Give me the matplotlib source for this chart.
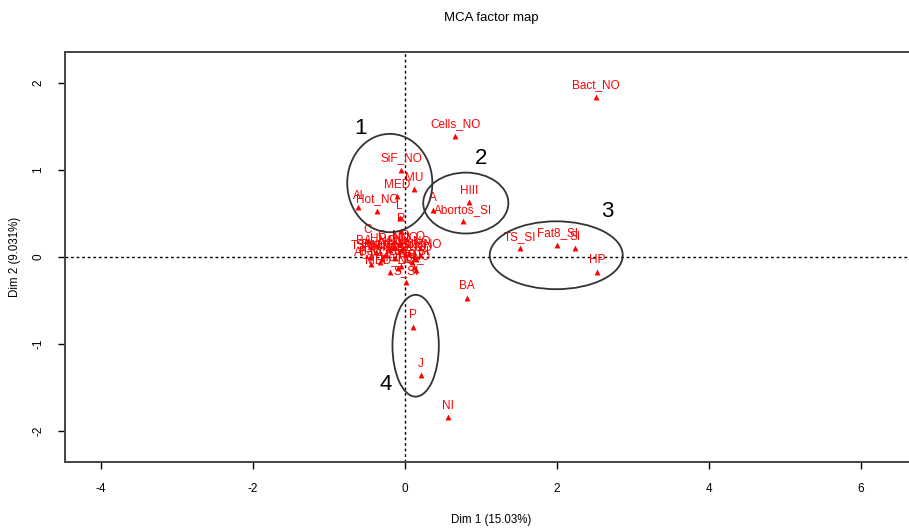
import matplotlib
matplotlib.use("Agg")
import matplotlib.pyplot as plt
from matplotlib.patches import Ellipse

plt.rcParams['font.family'] = ['Liberation Sans', 'DejaVu Sans']

# ---- data ----
labels = ["Bact_NO", "Cells_NO", "SiF_NO", "MU", "MED", "Hot_NO", "Al", "L", "R",
          "C", "O", "HIII", "Abortos_SI", "A", "TS_SI", "Fat8_SI", "SI", "HP",
          "BA", "P", "J", "NI", "S_SI",
          "TS_NO", "FatB_NO", "Abortos_NO", "Bact_SI", "Cells_SI", "SiF_SI",
          "Hot_SI", "MED_NO", "HIII_NO", "HP_NO", "BA_NO", "P_NO", "J_NO",
          "NI_NO", "MU_NO", "Al_NO", "C_NO", "O_NO", "SI_", "L_NO"]
dim1 = [2.51, 0.66, -0.05, 0.12, -0.10, -0.37, -0.62, -0.07, -0.05,
        -0.49, 0.20, 0.84, 0.76, 0.37, 1.51, 2.00, 2.24, 2.53,
        0.82, 0.10, 0.21, 0.57, 0.01,
        -0.46, -0.26, -0.13, -0.33, 0.00, 0.09,
        -0.09, -0.20, 0.20, -0.20, -0.38, 0.12, -0.02,
        -0.30, 0.05, -0.45, -0.15, 0.15, 0.14, -0.05]
dim2 = [1.84, 1.39, 1.00, 0.78, 0.70, 0.53, 0.57, 0.45, 0.30,
        0.18, 0.10, 0.63, 0.41, 0.54, 0.10, 0.14, 0.10, -0.17,
        -0.47, -0.80, -1.36, -1.84, -0.29,
        0.00, 0.02, -0.01, -0.06, 0.02, -0.06,
        -0.13, -0.17, 0.02, 0.08, 0.06, -0.12, 0.10,
        -0.02, 0.05, -0.08, 0.12, -0.02, -0.15, -0.10]

ell_cx = [-0.20, 0.80, 1.99, 0.14]
ell_cy = [0.85, 0.62, 0.02, -1.02]
ell_w = [1.12, 1.12, 1.75, 0.61]
ell_h = [1.13, 0.70, 0.78, 1.17]
grp_names = ["1", "2", "3", "4"]
grp_x = [-0.59, 1.00, 2.66, -0.26]
grp_y = [1.48, 1.13, 0.52, -1.46]

xticks = [-4, -2, 0, 2, 4, 6]
yticks = [-2, -1, 0, 1, 2]

# ---- figure ----
W, H = 909, 529
fig = plt.figure(figsize=(W / 100, H / 100), dpi=100)
L, R, T, B = 65, 917, 52, 462
ax = fig.add_axes([L / W, 1 - B / H, (R - L) / W, (B - T) / H])
x0 = 405
sx = 76.0
y0 = 257
sy = 87.0
ax.set_xlim((L - x0) / sx, (R - x0) / sx)
ax.set_ylim((y0 - B) / sy, (y0 - T) / sy)

ax.axhline(0, color='black', lw=1.0, ls=(0, (2, 2)))
ax.axvline(0, color='black', lw=1.0, ls=(0, (2, 2)))

ax.scatter(dim1, dim2, marker='^', s=18, color='red', zorder=3, linewidths=0)
for lab, x, y in zip(labels, dim1, dim2):
    ax.annotate(lab, (x, y), xytext=(0, 4), textcoords='offset points',
                ha='center', va='bottom', fontsize=8.5, color='red', zorder=4)

for cx, cy, w, h in zip(ell_cx, ell_cy, ell_w, ell_h):
    ax.add_patch(Ellipse((cx, cy), w, h, fill=False, edgecolor='#333333', lw=1.3, zorder=5))
for n, x, y in zip(grp_names, grp_x, grp_y):
    ax.text(x, y, n, fontsize=16, ha='center', va='center', color='black', zorder=6)

ax.set_xticks(xticks)
ax.set_xticklabels([str(t) for t in xticks])
ax.set_yticks(yticks)
ax.set_yticklabels([str(t) for t in yticks], rotation=90, va='center')
ax.tick_params(axis='both', direction='out', length=5, width=1, labelsize=8.5, colors='black')
ax.tick_params(axis='x', pad=10)
ax.tick_params(axis='y', pad=10)
for sp in ax.spines.values():
    sp.set_color('#444444')
    sp.set_linewidth(1.4)

ax.set_xlabel("Dim 1 (15.03%)", fontsize=8.3, labelpad=14)
ax.set_ylabel("Dim 2 (9.031%)", fontsize=8.3, labelpad=8)
fig.text((L + R) / 2 / W, 1 - 18 / H, "MCA factor map", ha='center', va='center', fontsize=9.5)

fig.savefig("out.png", dpi=100)
